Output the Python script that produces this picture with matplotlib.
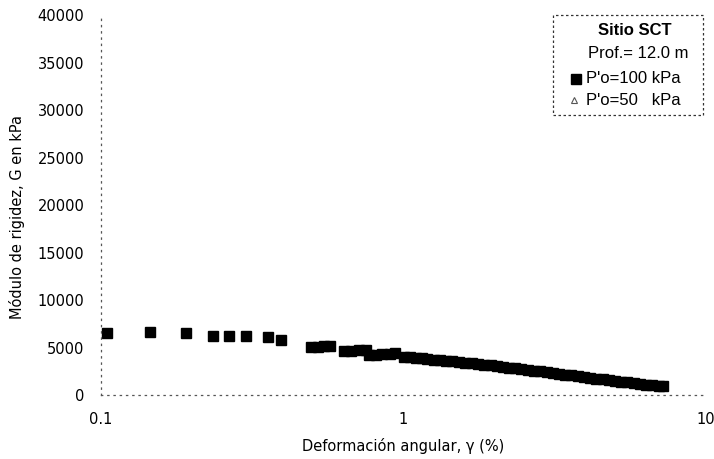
import matplotlib
matplotlib.use('Agg')
import matplotlib.pyplot as plt
from matplotlib.patches import Rectangle

# P'o = 100 kPa
gamma_100 = [0.105, 0.145, 0.191, 0.235, 0.265, 0.302, 0.357, 0.394,
             0.495, 0.52, 0.545, 0.57,
             0.635, 0.67, 0.71, 0.75,
             0.77, 0.81, 0.85, 0.90, 0.94,
             1.00, 1.05, 1.10, 1.15, 1.20, 1.26, 1.32, 1.38, 1.45, 1.52,
             1.60, 1.68, 1.76, 1.85, 1.94, 2.03, 2.13, 2.23, 2.34, 2.45,
             2.57, 2.70, 2.83, 2.97, 3.11, 3.26, 3.42, 3.59, 3.76, 3.95,
             4.14, 4.34, 4.55, 4.77, 5.00, 5.25, 5.50, 5.77, 6.05, 6.35,
             6.65, 7.00, 7.20]
G_100 = [6530, 6630, 6530, 6210, 6210, 6210, 6110, 5790,
         5020, 5060, 5110, 5150,
         4640, 4680, 4700, 4700,
         4180, 4250, 4300, 4350, 4400,
         4050, 3980, 3900, 3850, 3800, 3720, 3660, 3600, 3530, 3460,
         3400, 3330, 3260, 3180, 3110, 3030, 2960, 2880, 2800, 2720,
         2640, 2560, 2480, 2400, 2310, 2230, 2140, 2060, 1980, 1900,
         1810, 1730, 1650, 1570, 1490, 1410, 1330, 1250, 1170, 1100,
         1030, 960, 940]

yticks = [0, 5000, 10000, 15000, 20000, 25000, 30000, 35000, 40000]
xticks = [0.1, 1, 10]
xtick_labels = ['0.1', '1', '10']

fig = plt.figure(figsize=(7.14, 4.59), dpi=100)
ax = fig.add_axes([0.1415, 0.1394, 0.8473, 0.8279])

ax.plot(gamma_100, G_100, 's', color='black', ms=7, mec='black')

ax.set_xscale('log')
ax.set_xlim(0.1, 10)
ax.set_ylim(0, 40000)
ax.set_xticks(xticks)
ax.set_xticklabels(xtick_labels)
ax.minorticks_off()
ax.set_yticks(yticks)
ax.tick_params(length=0, labelsize=10.5)
ax.tick_params(axis='x', pad=12)
ax.tick_params(axis='y', pad=12)

for s in ['top', 'right']:
    ax.spines[s].set_visible(False)
for s in ['left', 'bottom']:
    ax.spines[s].set_linestyle((0, (1, 4)))
    ax.spines[s].set_color('#555555')
    ax.spines[s].set_linewidth(0.9)

ax.set_xlabel('Deformación angular, γ (%)', fontsize=10.5)
ax.set_ylabel('Módulo de rigidez, G en kPa', fontsize=10.5)
ax.xaxis.set_label_coords(0.5, -0.112)
ax.yaxis.set_label_coords(-0.126, 0.468)

# legend box
ax.add_patch(Rectangle((0.747, 0.737), 0.248, 0.263, transform=ax.transAxes,
                       fill=False, ec='#333333', lw=0.9, ls=(0, (2, 2)),
                       clip_on=False))
lf = 'Liberation Sans'
ax.text(0.883, 0.958, 'Sitio SCT', transform=ax.transAxes, ha='center',
        va='center', fontsize=12, fontweight='bold', family=lf)
ax.text(0.805, 0.900, 'Prof.= 12.0 m', transform=ax.transAxes, ha='left',
        va='center', fontsize=12, family=lf)
ax.plot([0.785], [0.832], 's', color='black', ms=6.5, transform=ax.transAxes,
        clip_on=False)
ax.text(0.801, 0.832, "P'o=100 kPa", transform=ax.transAxes, ha='left',
        va='center', fontsize=12, family=lf)
ax.plot([0.781], [0.776], '^', mfc='none', mec='#555555', ms=4.5, mew=0.8,
        transform=ax.transAxes, clip_on=False)
ax.text(0.801, 0.776, "P'o=50   kPa", transform=ax.transAxes, ha='left',
        va='center', fontsize=12, family=lf)

fig.savefig('out.png', dpi=100)
